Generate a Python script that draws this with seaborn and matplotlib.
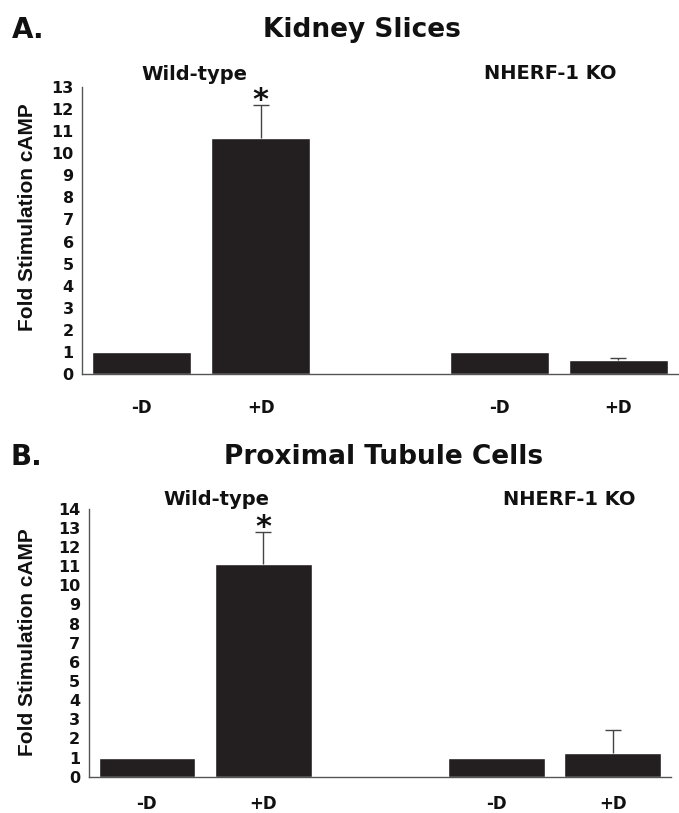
import numpy as np
import pandas as pd
import matplotlib
matplotlib.use('Agg')
import matplotlib.pyplot as plt
import seaborn as sns

# categories (the empty "gap" slot separates the two genotypes)
groups = ['WT -D', 'WT +D', 'gap', 'KO -D', 'KO +D']
tick_labels = ['-D', '+D', '', '-D', '+D']
bar_groups = ['WT -D', 'WT +D', 'KO -D', 'KO +D']

# panel A: kidney slices
kidney_vals = [1.0, 10.7, 1.0, 0.63]
kidney_err = [0.0, 1.5, 0.0, 0.08]
# panel B: proximal tubule cells
ptc_vals = [1.0, 11.1, 1.0, 1.25]
ptc_err = [0.0, 1.7, 0.0, 1.17]

sns.set_theme(style='white')
plt.rcParams['font.family'] = ['DejaVu Sans']
plt.rcParams['font.weight'] = 'bold'

BAR = '#231f20'
AXC = '#555555'
TXT = '#111111'

fig = plt.figure(figsize=(6.79, 8.13), dpi=100)
ax_a = fig.add_axes([0.1208, 0.5400, 0.8777, 0.3530])
ax_b = fig.add_axes([0.1306, 0.0447, 0.8576, 0.3296])


def draw_panel(ax, vals, errs, ymax, label_pad, ylab_xy):
    df = pd.DataFrame({'group': bar_groups, 'value': vals})
    sns.barplot(data=df, x='group', y='value', order=groups, color=BAR,
                width=0.83, saturation=1, errorbar=None, ax=ax)
    pos = np.array([groups.index(g) for g in bar_groups])
    v = np.array(vals)
    e = np.array(errs)
    keep = e > 0
    # upper half of the error bar only
    _, caps, _ = ax.errorbar(pos[keep], v[keep],
                             yerr=[np.zeros(keep.sum()), e[keep]], fmt='none',
                             ecolor='#444444', elinewidth=1.0, capsize=5.5,
                             capthick=1.0)
    caps[0].set_visible(False)
    ax.set_xlim(-0.5, len(groups) - 0.5)
    ax.set_ylim(0, ymax)
    ax.set_yticks(range(0, ymax + 1))
    ax.set_xticks(range(len(groups)))
    ax.set_xticklabels(tick_labels, fontsize=12, fontweight='bold', color=TXT)
    ax.set_xticks(np.arange(-0.5, len(groups), 1.0), minor=True)
    ax.tick_params(axis='x', which='major', length=0, pad=label_pad)
    ax.tick_params(axis='x', which='minor', length=5, width=1, color=AXC,
                   direction='out')
    ax.tick_params(axis='y', length=5, width=1, color=AXC, direction='out',
                   labelsize=11.5, pad=1, labelcolor=TXT)
    for t in ax.get_yticklabels():
        t.set_fontweight('bold')
    ax.set_xlabel('')
    ax.set_ylabel('Fold Stimulation cAMP', fontsize=15, fontweight='bold',
                  family=['Liberation Sans', 'DejaVu Sans'], color=TXT)
    ax.yaxis.set_label_coords(*ylab_xy)
    sns.despine(ax=ax)
    for s in ['left', 'bottom']:
        ax.spines[s].set_color(AXC)
        ax.spines[s].set_linewidth(1)
    # significance star above the wild-type +D error bar
    i = 1
    ax.annotate('*', (pos[i], v[i] + e[i]), xytext=(0, 3),
                textcoords='offset points', ha='center', va='center',
                fontsize=22, fontweight='bold', color=TXT)


draw_panel(ax_a, kidney_vals, kidney_err, 13, 18, (-0.076, 0.547))
draw_panel(ax_b, ptc_vals, ptc_err, 14, 13.5, (-0.089, 0.503))

fig.text(0.018, 0.963, 'A.', fontsize=20, fontweight='bold', va='center',
         color=TXT)
fig.text(0.533, 0.963, 'Kidney Slices', fontsize=19, fontweight='bold',
         ha='center', va='center', color=TXT)
fig.text(0.287, 0.908, 'Wild-type', fontsize=14, fontweight='bold',
         ha='center', va='center', color=TXT)
fig.text(0.811, 0.909, 'NHERF-1 KO', fontsize=14, fontweight='bold',
         ha='center', va='center', color=TXT)

fig.text(0.016, 0.438, 'B.', fontsize=20, fontweight='bold', va='center',
         color=TXT)
fig.text(0.565, 0.438, 'Proximal Tubule Cells', fontsize=19, fontweight='bold',
         ha='center', va='center', color=TXT)
fig.text(0.318, 0.386, 'Wild-type', fontsize=14, fontweight='bold',
         ha='center', va='center', color=TXT)
fig.text(0.839, 0.386, 'NHERF-1 KO', fontsize=14, fontweight='bold',
         ha='center', va='center', color=TXT)

fig.savefig('out.png', dpi=100)
